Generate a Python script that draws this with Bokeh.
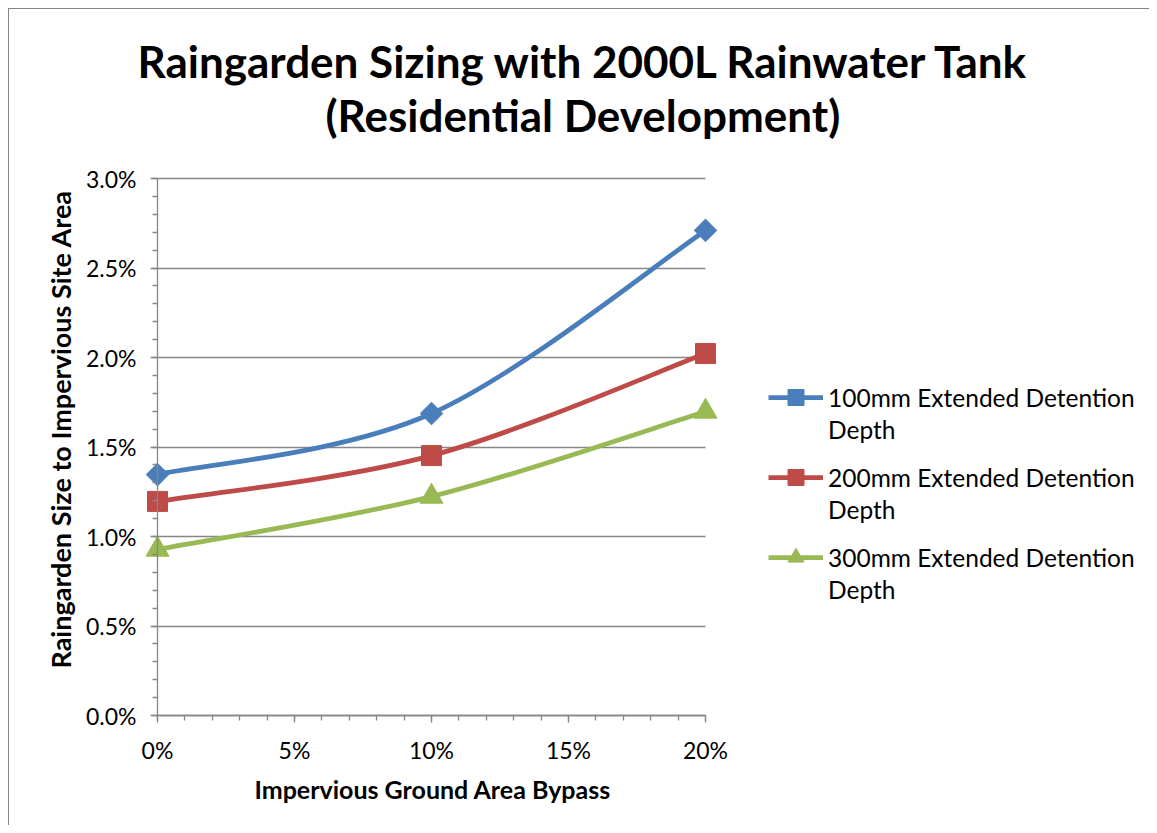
import math
from bokeh.plotting import figure
from bokeh.models import (ColumnDataSource, SingleIntervalTicker, NumeralTickFormatter,
                          Legend, LegendItem, Range1d, Title, Grid)
from bokeh.embed import file_html
from bokeh.resources import INLINE

# ---------------- data ----------------
bypass = [0.00, 0.10, 0.20]
depth_100mm = [0.01346, 0.01687, 0.02710]
depth_200mm = [0.01196, 0.01452, 0.02022]
depth_300mm = [0.00927, 0.01223, 0.01698]
series_names = ["100mm Extended Detention",
                "200mm Extended Detention",
                "300mm Extended Detention"]
series_names_2nd_line = ["Depth", "Depth", "Depth"]
title_line1 = "Raingarden Sizing with 2000L Rainwater Tank"
title_line2 = "(Residential Development)"
x_label = "Impervious Ground Area Bypass"
y_label = "Raingarden Size to Impervious Site Area"
x_min, x_max = 0.0, 0.20
y_min, y_max = 0.0, 0.030
x_step, y_step = 0.05, 0.005

FONT = "Lato"
GRAY = "#868686"
colors = ["#4A7EBB", "#BE4B48", "#98B954"]

W, H = 1149, 825
AX_L, AX_R, AX_T, AX_B = 157, 705, 178, 715     # pixel box of the value axes
FR_L, FR_R, FR_T, FR_B = 76, W - 1, 160, 770     # drawing frame (holds tick labels)
ppx = (AX_R - AX_L) / (x_max - x_min)
ppy = (AX_B - AX_T) / (y_max - y_min)
x_lo = x_min - (AX_L - FR_L) / ppx
x_hi = x_max + (FR_R - AX_R) / ppx
y_lo = y_min - (FR_B - AX_B) / ppy
y_hi = y_max + (AX_T - FR_T) / ppy

bg = (f"linear-gradient({GRAY},{GRAY}) 8px 8px / 1px 100% no-repeat, "
      f"linear-gradient({GRAY},{GRAY}) 8px 8px / 100% 1px no-repeat, white")

p = figure(width=W, height=H, output_backend="svg", toolbar_location=None,
           x_range=Range1d(x_lo, x_hi), y_range=Range1d(y_lo, y_hi),
           min_border_left=FR_L, min_border_right=W - FR_R,
           min_border_top=FR_T, min_border_bottom=H - FR_B,
           background_fill_color="white", border_fill_color=None,
           outline_line_color=None, styles={"background": bg})

# title: two lines, stacked above the frame (added innermost first)
spacer = Title(text=" ", text_font=FONT, text_font_size="15px", standoff=0)
t2 = Title(text=title_line2, align="left", offset=325 - FR_L, standoff=0,
           text_font=FONT, text_font_size="44px", text_font_style="bold",
           text_color="black")
t1 = Title(text=title_line1, align="left", offset=137 - FR_L, standoff=0,
           text_font=FONT, text_font_size="44px", text_font_style="bold",
           text_color="black")
p.add_layout(spacer, "above")
p.add_layout(t2, "above")
p.add_layout(t1, "above")

# axes, fixed at the value origin
for ax in (p.xaxis[0], p.yaxis[0]):
    ax.axis_line_color = GRAY
    ax.axis_line_width = 1.3
    ax.major_tick_line_color = GRAY
    ax.minor_tick_line_color = GRAY
    ax.major_tick_line_width = 1.3
    ax.minor_tick_line_width = 1.3
    ax.major_tick_in = 0
    ax.major_tick_out = 7
    ax.minor_tick_in = 0
    ax.minor_tick_out = 5
    ax.major_label_text_font = FONT
    ax.major_label_text_font_size = "23px"
    ax.major_label_text_color = "black"

xa, ya = p.xaxis[0], p.yaxis[0]
xa.ticker = SingleIntervalTicker(interval=x_step, num_minor_ticks=5)
ya.ticker = SingleIntervalTicker(interval=y_step, num_minor_ticks=5)
xa.formatter = NumeralTickFormatter(format="0%")
ya.formatter = NumeralTickFormatter(format="0.0%")
xa.bounds = (x_min, x_max)
ya.bounds = (y_min, y_max)
xa.fixed_location = y_min
ya.fixed_location = x_min
xa.major_label_standoff = 13
ya.major_label_standoff = 14

# axis titles
xt = Title(text=x_label, align="left", offset=254 - FR_L, standoff=2,
           text_font=FONT, text_font_size="25px", text_font_style="bold",
           text_color="black")
p.add_layout(xt, "below")
yt = Title(text=y_label, align="left", offset=FR_B - 668, standoff=0,
           text_font=FONT, text_font_size="27px", text_font_style="bold",
           text_color="black")
p.add_layout(yt, "left")

p.xgrid.grid_line_color = None
p.ygrid.grid_line_color = GRAY
p.ygrid.grid_line_width = 1.3
if "cross_bounds" in Grid.properties():
    p.ygrid.cross_bounds = (x_min, x_max)
else:
    p.ygrid.grid_line_color = None
    n_ticks = int(round((y_max - y_min) / y_step)) + 1
    gy = [y_min + i * y_step for i in range(n_ticks)]
    p.segment(x0=[x_min] * n_ticks, x1=[x_max] * n_ticks, y0=gy, y1=gy,
              line_color=GRAY, line_width=1.3, level="underlay")


def smooth_segments(xs, ys):
    """Bezier control points (Catmull-Rom style smoothing) derived from data."""
    n = len(xs)
    d = dict(x0=[], y0=[], x1=[], y1=[], cx0=[], cy0=[], cx1=[], cy1=[])
    for i in range(n - 1):
        pm = max(i - 1, 0)
        pp = min(i + 2, n - 1)
        d["x0"].append(xs[i]); d["y0"].append(ys[i])
        d["x1"].append(xs[i + 1]); d["y1"].append(ys[i + 1])
        d["cx0"].append(xs[i] + (xs[i + 1] - xs[pm]) / 6)
        d["cy0"].append(ys[i] + (ys[i + 1] - ys[pm]) / 6)
        d["cx1"].append(xs[i + 1] - (xs[pp] - xs[i]) / 6)
        d["cy1"].append(ys[i + 1] - (ys[pp] - ys[i]) / 6)
    return ColumnDataSource(d)


NaN = float("nan")
markers = [("square", 16, math.pi / 4), ("square", 20, 0), ("triangle", 23, 0)]
items, items2 = [], []
blank = p.line(x=[NaN], y=[NaN], line_alpha=0)
for ys, name, name2, col, (mk, sz, ang) in zip(
        [depth_100mm, depth_200mm, depth_300mm], series_names,
        series_names_2nd_line, colors, markers):
    src = smooth_segments(bypass, ys)
    p.bezier(x0="x0", y0="y0", x1="x1", y1="y1", cx0="cx0", cy0="cy0",
             cx1="cx1", cy1="cy1", source=src, line_color=col, line_width=4.75)
    s = p.scatter(bypass, ys, marker=mk, size=sz, angle=ang, fill_color=col,
                  line_color=col, line_width=1)
    lg_line = p.line(x=[NaN], y=[NaN], line_color=col, line_width=4.75)
    items.append(LegendItem(label=name, renderers=[lg_line, s]))
    items2.append(LegendItem(label=name2, renderers=[blank]))

LEG_X = 768 - FR_L
leg_common = dict(glyph_width=55, glyph_height=40, label_standoff=5, spacing=40,
                  padding=0, margin=0, label_text_font=FONT,
                  label_text_font_size="24.5px", label_text_color="black",
                  border_line_color=None, background_fill_alpha=0)
# first text line of each entry (with line + marker), then its second line
legend = Legend(items=items, location=(LEG_X, FR_B - 577), **leg_common)
legend2 = Legend(items=items2, location=(LEG_X, FR_B - 609), **leg_common)
p.add_layout(legend, "center")
p.add_layout(legend2, "center")

open("out.html", "w").write(file_html(p, INLINE))
